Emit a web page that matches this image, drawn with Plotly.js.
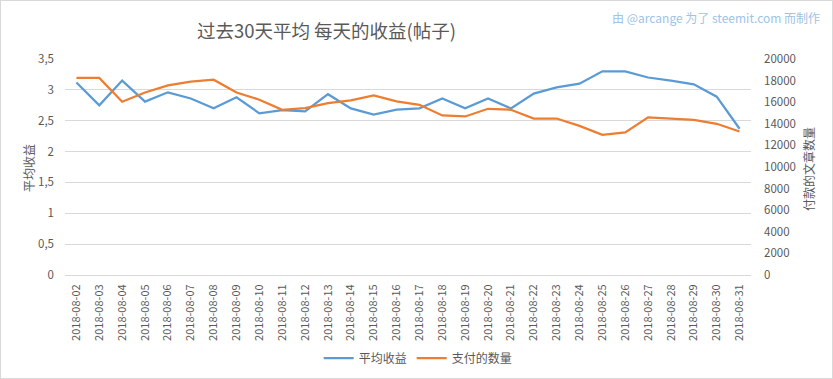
<!DOCTYPE html>
<html><head><meta charset="utf-8">
<script src="https://cdn.plot.ly/plotly-3.0.1.min.js"></script>
<style>body{margin:0;} #wrap{position:relative;width:833px;height:379px;} #frame{position:absolute;left:0;top:0;width:831px;height:377px;border:1px solid #d9d9d9;pointer-events:none;}</style>
</head><body>
<div id="wrap"><div id="chart" style="width:833px;height:379px;"></div><div id="frame"></div></div>
<script>
const dates = ["2018-08-02","2018-08-03","2018-08-04","2018-08-05","2018-08-06","2018-08-07","2018-08-08","2018-08-09","2018-08-10","2018-08-11","2018-08-12","2018-08-13","2018-08-14","2018-08-15","2018-08-16","2018-08-17","2018-08-18","2018-08-19","2018-08-20","2018-08-21","2018-08-22","2018-08-23","2018-08-24","2018-08-25","2018-08-26","2018-08-27","2018-08-28","2018-08-29","2018-08-30","2018-08-31"];
const avgReward = [3.12,2.75,3.15,2.81,2.96,2.86,2.70,2.88,2.62,2.67,2.65,2.93,2.70,2.60,2.68,2.70,2.86,2.70,2.86,2.70,2.94,3.04,3.10,3.30,3.30,3.20,3.15,3.09,2.89,2.37];
const paidCount = [18250,18250,16040,16900,17550,17900,18080,16900,16230,15300,15450,15920,16160,16630,16070,15760,14770,14680,15390,15300,14490,14490,13810,12980,13200,14590,14490,14370,14000,13290];
const seriesNames = ["平均收益","支付的数量"];
const titleText = "过去30天平均 每天的收益(帖子)";
const leftTitle = "平均收益";
const rightTitle = "付款的文章数量";
const credit = "由 @arcange 为了 steemit.com 而制作";

const F = '"Noto Sans CJK SC", "Noto Sans", sans-serif';
const gray = '#595959';
const traces = [
  {x: dates, y: avgReward, name: seriesNames[0], type: 'scatter', mode: 'lines', line: {color: '#5b9bd5', width: 2.25}, yaxis: 'y'},
  {x: dates, y: paidCount, name: seriesNames[1], type: 'scatter', mode: 'lines', line: {color: '#ed7d31', width: 2.25}, yaxis: 'y2'}
];
const layout = {
  width: 833, height: 379,
  margin: {l: 65, r: 82, t: 59, b: 104},
  paper_bgcolor: '#ffffff', plot_bgcolor: '#ffffff',
  separators: ',.',
  font: {family: F, color: gray, size: 11},
  showlegend: true,
  title: {text: titleText, font: {family: F, size: 18.5, color: gray}, x: 0.392, xanchor: 'center', y: 0.918, yanchor: 'middle', yref: 'container', xref: 'container'},
  xaxis: {type: 'category', range: [-0.5, 29.5], tickangle: -90, showgrid: false, showline: true, linecolor: '#d9d9d9', linewidth: 1, zeroline: false, tickfont: {size: 11, color: gray, family: F}, ticks: '', ticklabelstandoff: 4, automargin: false, fixedrange: true},
  yaxis: {range: [0, 3.5], dtick: 0.5, tick0: 0, showgrid: true, gridcolor: '#d9d9d9', zeroline: false, showline: false, ticks: '', tickfont: {size: 11.5, color: gray, family: F}, ticklabelstandoff: 10, automargin: false, fixedrange: true},
  yaxis2: {range: [0, 20000], dtick: 2000, tick0: 0, overlaying: 'y', side: 'right', showgrid: false, zeroline: false, showline: false, ticks: '', tickformat: 'd', tickfont: {size: 11.5, color: gray, family: F}, ticklabelstandoff: 12, automargin: false, fixedrange: true},
  legend: {orientation: 'h', xref: 'container', yref: 'container', x: 0.502, xanchor: 'center', y: 0.0554, yanchor: 'middle', font: {size: 12, color: gray, family: F}, itemwidth: 30, tracegroupgap: 0},
  annotations: [
    {text: leftTitle, xref: 'paper', yref: 'paper', x: -0.054, y: 0.495, xanchor: 'center', yanchor: 'middle', textangle: -90, showarrow: false, font: {size: 12, color: gray, family: F}},
    {text: rightTitle, xref: 'paper', yref: 'paper', x: 1.083, y: 0.49, xanchor: 'center', yanchor: 'middle', textangle: -90, showarrow: false, font: {size: 12, color: gray, family: F}},
    {text: credit, xref: 'paper', yref: 'paper', x: 1.1035, y: 1.194, xanchor: 'right', yanchor: 'middle', showarrow: false, font: {size: 12, color: '#9dc3e6', family: F}}
  ]
};
Plotly.newPlot('chart', traces, layout, {displayModeBar: false, staticPlot: true});
</script>
</body></html>
